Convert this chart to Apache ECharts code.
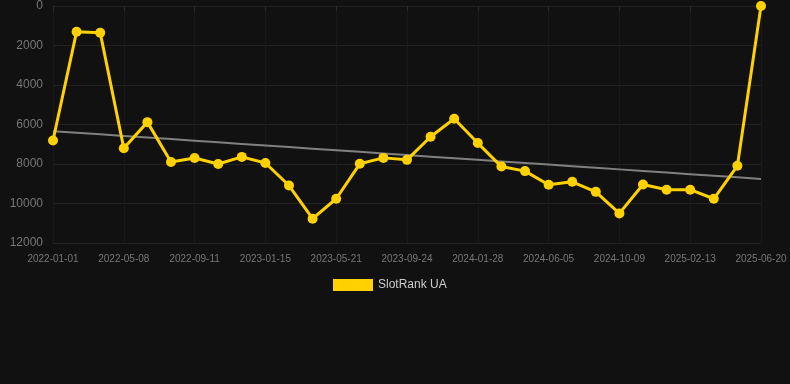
<!DOCTYPE html>
<html>
<head>
<meta charset="utf-8">
<script src="https://cdn.jsdelivr.net/npm/echarts@6/dist/echarts.min.js"></script>
<style>
html,body{margin:0;padding:0;background:#111111;}
#c{width:790px;height:384px;}
</style>
</head>
<body>
<div id="c"></div>
<script>
const categories = ['2022-01-01','2022-02-12','2022-03-26','2022-05-08','2022-06-19','2022-07-31','2022-09-11','2022-10-23','2022-12-04','2023-01-15','2023-02-26','2023-04-09','2023-05-21','2023-07-02','2023-08-13','2023-09-24','2023-11-05','2023-12-17','2024-01-28','2024-03-10','2024-04-23','2024-06-05','2024-07-17','2024-08-28','2024-10-09','2024-11-20','2025-01-01','2025-02-13','2025-03-27','2025-05-08','2025-06-20'];
const rankValues = [6810,1300,1350,7200,5880,7900,7700,8000,7640,7950,9090,10770,9760,7990,7690,7790,6620,5710,6940,8130,8360,9050,8900,9410,10500,9040,9300,9300,9760,8090,0];
const seriesName = 'SlotRank UA';

// linear regression trend
const n = rankValues.length;
let sx=0, sy=0, sxy=0, sxx=0;
rankValues.forEach((v,i)=>{sx+=i;sy+=v;sxy+=i*v;sxx+=i*i;});
const slope = (n*sxy - sx*sy)/(n*sxx - sx*sx);
const intercept = (sy - slope*sx)/n;
const trend = rankValues.map((v,i)=>intercept + slope*i);

const chart = echarts.init(document.getElementById('c'));
chart.setOption({
  backgroundColor:'#111111',
  animation:false,
  grid:{left:53,right:29,top:6,bottom:141},
  legend:{
    data:[{name:seriesName,icon:'rect'}],
    left:328,
    top:274,
    itemWidth:40,itemHeight:12,
    itemGap:10,
    textStyle:{color:'#cccccc',fontSize:12,fontFamily:'Arial, Liberation Sans, sans-serif'}
  },
  xAxis:{
    type:'category',
    data:categories,
    boundaryGap:false,
    axisLine:{show:false},
    axisTick:{show:true,interval:2,lineStyle:{color:'#2a2a2a'}},
    axisLabel:{interval:2,color:'#777777',fontSize:10,margin:11,fontFamily:'Arial, Liberation Sans, sans-serif'},
    splitLine:{show:true,interval:2,lineStyle:{color:'#191919'}}
  },
  yAxis:{
    type:'value',
    inverse:true,
    min:0,max:12000,interval:2000,
    axisLine:{show:false},
    axisTick:{show:false},
    axisLabel:{color:'#777777',fontSize:12,margin:10,formatter:v=>String(v),fontFamily:'Arial, Liberation Sans, sans-serif'},
    splitLine:{lineStyle:{color:'#222222'}}
  },
  series:[
    {
      name:seriesName,
      type:'line',
      data:rankValues,
      color:'#FFD100',
      lineStyle:{width:3,color:'#FFD100'},
      symbol:'circle',
      symbolSize:10,
      itemStyle:{color:'#FFD100'},
      z:3
    },
    {
      name:'trend',
      type:'line',
      data:trend,
      symbol:'none',
      lineStyle:{width:2,color:'#808080'},
      z:2,
      silent:true
    }
  ]
});
</script>
</body>
</html>
